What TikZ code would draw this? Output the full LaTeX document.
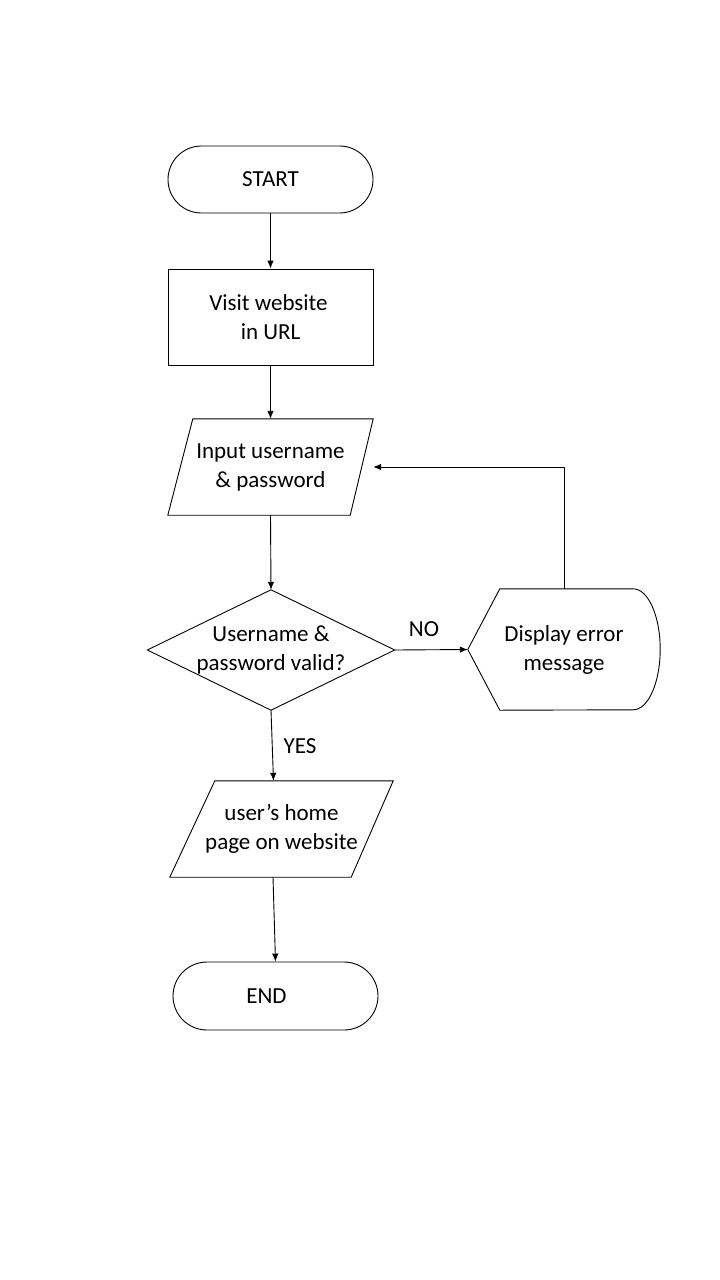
\documentclass[tikz,border=0pt]{standalone}
\usepackage{fontspec}
\setmainfont{Carlito}
\usetikzlibrary{shapes.misc,arrows.meta,calc}
\begin{document}
\begin{tikzpicture}[x=1pt,y=-1pt,
  every node/.style={font=\fontsize{23}{29}\selectfont, align=center, inner sep=0pt},
  line/.style={line width=0.9pt},
  arr/.style={line, -{Latex[length=8pt,width=6.5pt]}},
  terminal/.style={rounded rectangle, draw, line, minimum width=205pt, minimum height=67pt},
  procbox/.style={rectangle, draw, line, minimum width=205pt, minimum height=96pt},
  frame/.style={rectangle, draw=none}
]
\useasboundingbox (0,0) rectangle (720,1280);
\fill[white] (0,0) rectangle (720,1280);

% nodes
\node[terminal] (start) at (270.5,179.5) {START};
\node[procbox] (visit) at (270.5,317) {Visit website\hspace*{4pt}\\in URL};
\node[frame, minimum width=205pt, minimum height=96pt] (input) at (270.5,467) {Input username\\\& password};
\node[frame, minimum width=247pt, minimum height=120pt] (dia) at (271,650) {Username \&\\password valid?};
\node[frame, minimum width=192pt, minimum height=121pt] (disp) at (564,649.5) {Display error\\message};
\node[frame, minimum width=223pt, minimum height=96pt] (home) at (281.5,829) {user’s home\\page on website};
\node[terminal, minimum height=68pt] (end) at (275.5,996) {END\hspace*{18pt}};

% outlines of the non-rectangular symbols
\draw[line] ($(input.north west)+(25,0)$) -- (input.north east)
  -- ($(input.south east)+(-23,0)$) -- (input.south west) -- cycle;
\draw[line] (dia.north) -- (dia.east) -- (dia.south) -- (dia.west) -- cycle;
\draw[line] ($(disp.north west)+(32,0)$) -- ($(disp.north east)+(-27,0)$)
  arc[start angle=-90, end angle=90, x radius=27, y radius=60.5]
  -- ($(disp.south west)+(32,0)$) -- (disp.west) -- cycle;
\draw[line] ($(home.north west)+(45,0)$) -- (home.north east)
  -- ($(home.south east)+(-42,0)$) -- (home.south west) -- cycle;

% connectors
\draw[arr] (start.south) -- (visit.north);
\draw[arr] (visit.south) -- (input.north);
\draw[arr] (input.south) -- (dia.north);
\draw[arr] (dia.east) -- (disp.west);
\node (no) at (424,629) {NO};
\draw[arr] (disp.north) |- (input.east);
\draw[arr] (dia.south) -- ([xshift=-8pt]home.north);
\node (yes) at (300,746) {YES};
\draw[arr] ([xshift=-8.5pt]home.south) -- (end.north);
\end{tikzpicture}
\end{document}
